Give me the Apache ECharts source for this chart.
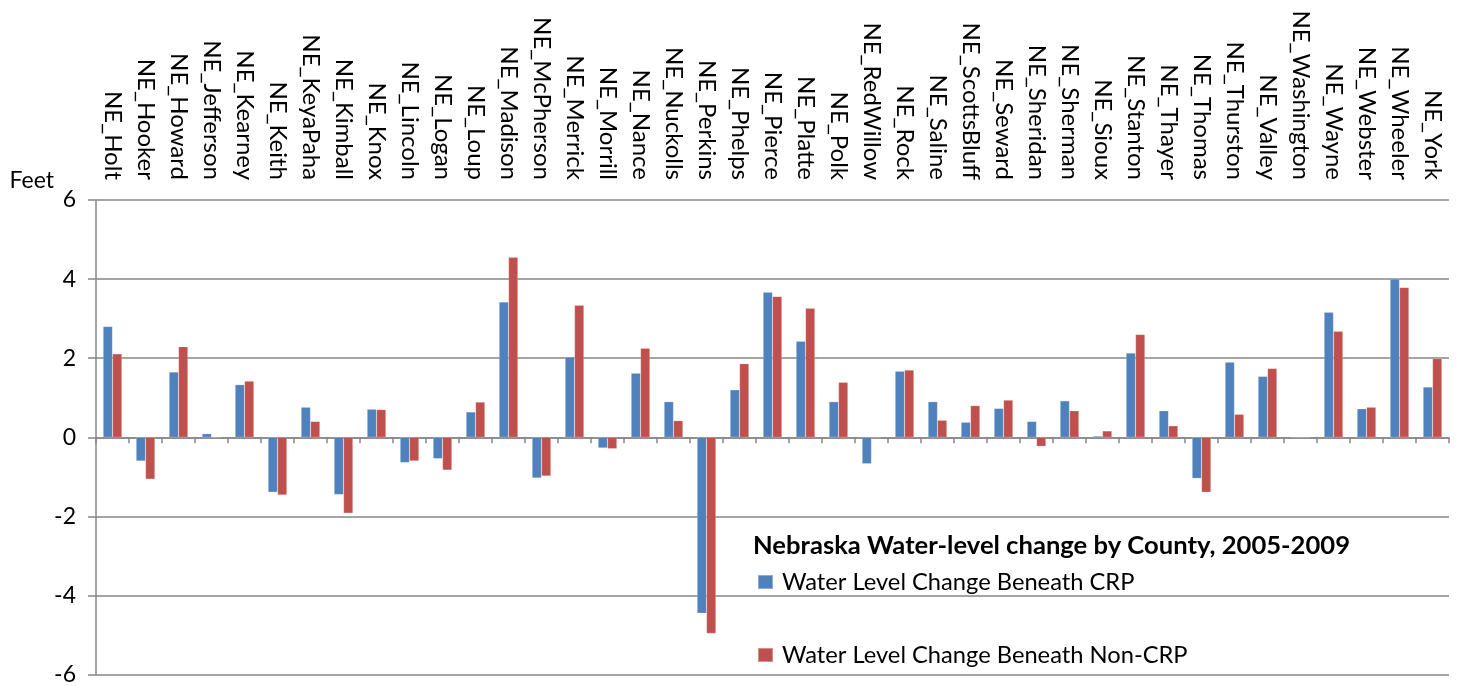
<!DOCTYPE html>
<html>
<head>
<meta charset="utf-8">
<script src="https://cdn.jsdelivr.net/npm/echarts@6/dist/echarts.min.js"></script>
<style>
  html, body { margin: 0; padding: 0; background: #fff; }
  #chart { width: 1461px; height: 686px; }
</style>
</head>
<body>
<div id="chart"></div>
<script>
const counties = [
  'NE_Holt', 'NE_Hooker', 'NE_Howard', 'NE_Jefferson', 'NE_Kearney', 'NE_Keith',
  'NE_KeyaPaha', 'NE_Kimball', 'NE_Knox', 'NE_Lincoln', 'NE_Logan', 'NE_Loup',
  'NE_Madison', 'NE_McPherson', 'NE_Merrick', 'NE_Morrill', 'NE_Nance', 'NE_Nuckolls',
  'NE_Perkins', 'NE_Phelps', 'NE_Pierce', 'NE_Platte', 'NE_Polk', 'NE_RedWillow',
  'NE_Rock', 'NE_Saline', 'NE_ScottsBluff', 'NE_Seward', 'NE_Sheridan', 'NE_Sherman',
  'NE_Sioux', 'NE_Stanton', 'NE_Thayer', 'NE_Thomas', 'NE_Thurston', 'NE_Valley',
  'NE_Washington', 'NE_Wayne', 'NE_Webster', 'NE_Wheeler', 'NE_York'
];

// feet
const crpChange = [
  2.80, -0.60, 1.65, 0.09, 1.33, -1.39,
  0.76, -1.45, 0.71, -0.64, -0.54, 0.64,
  3.42, -1.03, 2.03, -0.27, 1.62, 0.90,
  -4.45, 1.20, 3.67, 2.43, 0.90, -0.67,
  1.67, 0.90, 0.38, 0.73, 0.40, 0.92,
  0.03, 2.13, 0.67, -1.04, 1.90, 1.54,
  0, 3.16, 0.72, 4.00, 1.27
];
const nonCrpChange = [
  2.11, -1.06, 2.29, 0, 1.42, -1.46,
  0.40, -1.92, 0.70, -0.60, -0.83, 0.89,
  4.55, -0.98, 3.34, -0.29, 2.25, 0.42,
  -4.96, 1.86, 3.56, 3.26, 1.39, -0.02,
  1.70, 0.43, 0.80, 0.94, -0.23, 0.67,
  0.16, 2.60, 0.29, -1.39, 0.58, 1.74,
  0, 2.68, 0.76, 3.79, 1.99
];

const yTicks = [-6, -4, -2, 0, 2, 4, 6];

const FONT = 'Lato';
const GRID_GREY = '#868686';

const chart = echarts.init(document.getElementById('chart'), null, { renderer: 'canvas' });

// the two legend entries sit far apart, so each gets its own legend box
const legendBase = {
  left: 757,
  padding: 0,
  itemWidth: 15,
  itemHeight: 14,
  itemGap: 8,
  icon: 'rect',
  textStyle: { fontFamily: FONT, fontSize: 23.7, color: '#000', padding: [0, 0, 0, 4] }
};

chart.setOption({
  animation: false,
  textStyle: { fontFamily: FONT, color: '#000' },
  title: {
    text: 'Nebraska Water-level change by County, 2005-2009',
    left: 753,
    top: 533,
    padding: 0,
    textStyle: { fontFamily: FONT, fontSize: 25.6, fontWeight: 'bold', color: '#000' }
  },
  legend: [
    Object.assign({}, legendBase, { data: ['Water Level Change Beneath CRP'], top: 570 }),
    Object.assign({}, legendBase, { data: ['Water Level Change Beneath Non-CRP'], top: 643 })
  ],
  grid: { left: 96, right: 12, top: 200, height: 476, containLabel: false },
  xAxis: [
    {
      // axis line + ticks along zero
      type: 'category',
      data: counties,
      position: 'bottom',
      axisLine: { onZero: true, lineStyle: { color: GRID_GREY, width: 1.5 } },
      axisTick: { show: true, interval: 0, length: 6, lineStyle: { color: GRID_GREY, width: 1.5 } },
      axisLabel: { show: false },
      splitLine: { show: false }
    },
    {
      // county names across the top
      type: 'category',
      data: counties,
      position: 'top',
      axisLine: { show: false },
      axisTick: { show: false },
      axisLabel: {
        interval: 0,
        rotate: 90,
        margin: 20,
        fontFamily: FONT,
        fontSize: 24,
        color: '#000'
      }
    }
  ],
  yAxis: {
    type: 'value',
    min: yTicks[0],
    max: yTicks[yTicks.length - 1],
    interval: 2,
    name: 'Feet',
    nameLocation: 'end',
    nameGap: 8,
    nameTextStyle: { fontFamily: FONT, fontSize: 23, color: '#000', align: 'right', padding: [0, 42, 0, 0] },
    axisLine: { show: true, lineStyle: { color: GRID_GREY, width: 1.5 } },
    axisTick: { show: true, length: 8, lineStyle: { color: GRID_GREY, width: 1.5 } },
    axisLabel: { margin: 20, fontFamily: FONT, fontSize: 23, color: '#000' },
    splitLine: { show: true, lineStyle: { color: GRID_GREY, width: 1.5 } }
  },
  series: [
    {
      name: 'Water Level Change Beneath CRP',
      type: 'bar',
      data: crpChange,
      barGap: '0%',
      barCategoryGap: '43%',
      itemStyle: { color: '#4F81BD', borderColor: 'rgba(255,255,255,0.35)', borderWidth: 0.5 }
    },
    {
      name: 'Water Level Change Beneath Non-CRP',
      type: 'bar',
      data: nonCrpChange,
      barGap: '0%',
      barCategoryGap: '43%',
      itemStyle: { color: '#C0504D', borderColor: 'rgba(255,255,255,0.35)', borderWidth: 0.5 }
    }
  ]
});
</script>
</body>
</html>
